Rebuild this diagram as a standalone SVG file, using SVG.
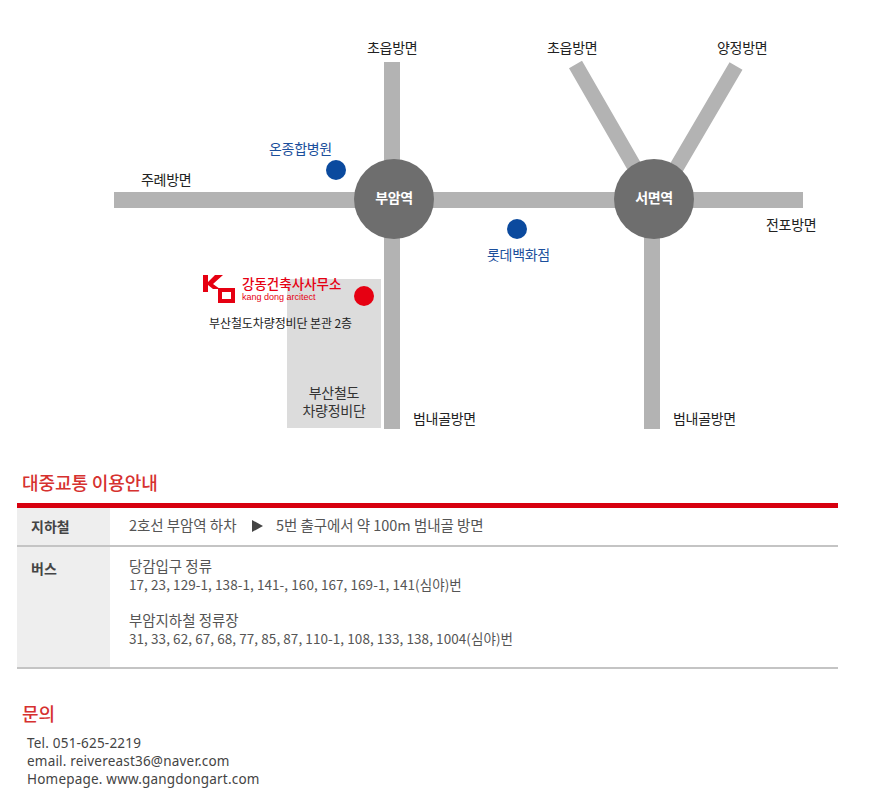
<svg xmlns="http://www.w3.org/2000/svg" width="869" height="798" viewBox="0 0 869 798">
<style>
text{font-family:"Noto Sans CJK KR","Noto Sans",sans-serif;letter-spacing:0}
.road{fill:#b3b3b3;stroke:none}
.rl{stroke:#b3b3b3;stroke-width:15;fill:none}
.lbl{font-size:14px;fill:#222;letter-spacing:-0.3px}
.poi{font-size:14px;fill:#1b4f9c;letter-spacing:-0.3px}
.st{font-size:14px;fill:#fff;font-weight:700;text-anchor:middle;letter-spacing:-0.3px}
.ko{font-size:14.5px;fill:#555;letter-spacing:-0.05px}
.sm{font-size:13.5px;fill:#555;letter-spacing:0.07px}
.th{font-size:14px;fill:#444;font-weight:700}
.hd{font-size:18px;fill:#d6312f;font-weight:500;letter-spacing:-0.1px}
.ct{font-size:13.5px;fill:#444;font-family:"Noto Sans","DejaVu Sans",sans-serif;letter-spacing:0.2px}
.bl{font-size:14px;fill:#333;letter-spacing:-0.25px;text-anchor:middle}
</style>
<rect width="869" height="798" fill="#fff"/>
<g id="building"><rect x="287" y="279" width="94" height="149" fill="#dcdcdc"/>
<text class="bl" x="334" y="398">부산철도</text>
<text class="bl" x="334" y="416">차량정비단</text></g>
<g id="connectors">
<rect class="road" x="384" y="62" width="16" height="367"/>
<rect class="road" x="114" y="192" width="689" height="16"/>
<rect class="road" x="644" y="199" width="16" height="230"/>
<path class="rl" d="M575.5 64.5L653 199M736 66L658 199"/>
</g>
<g id="station-bueam"><circle cx="394" cy="199" r="40" fill="#6e6e6e"/><text class="st" x="394" y="203">부암역</text></g>
<g id="station-seomyeon"><circle cx="654" cy="199" r="40" fill="#6e6e6e"/><text class="st" x="654" y="203">서면역</text></g>
<g id="labels">
<text class="lbl" x="367" y="53">초읍방면</text>
<text class="lbl" x="547" y="53">초읍방면</text>
<text class="lbl" x="717" y="53">양정방면</text>
<text class="lbl" x="141" y="185">주례방면</text>
<text class="lbl" x="766" y="230">전포방면</text>
<text class="lbl" x="413" y="424">범내골방면</text>
<text class="lbl" x="673" y="424">범내골방면</text>
</g>
<g id="poi-hospital"><circle cx="336" cy="170" r="10" fill="#0b4a9e"/><text class="poi" x="269" y="154">온종합병원</text></g>
<g id="poi-lotte"><circle cx="517" cy="229" r="10" fill="#0b4a9e"/><text class="poi" x="487" y="260">롯데백화점</text></g>
<g id="poi-office">
<circle cx="364" cy="296" r="10" fill="#e60012"/>
<path d="M203 275h5v7l7-7h8l-10 9 7 5h-7l-5-4v7h-5z" fill="#e60012"/>
<path d="M218 288h17v15h-17zM222 292v7h9v-7z" fill="#e60012" fill-rule="evenodd"/>
<text x="242" y="289" style="font-size:13.5px;fill:#e60012;font-weight:500">강동건축사사무소</text>
<text x="242" y="300" style="font-size:9px;fill:#e60012;font-family:'Liberation Sans',sans-serif">kang dong arcitect</text>
<text x="209" y="328" style="font-size:12px;fill:#222;letter-spacing:-0.1px">부산철도차량정비단 본관 2층</text>
</g>
<g id="transit">
<text class="hd" x="22" y="490">대중교통 이용안내</text>
<rect x="17" y="508" width="93" height="160" fill="#eeeeee"/>
<rect x="17" y="503" width="821" height="5" fill="#d7000f"/>
<rect x="17" y="545" width="821" height="2" fill="#c4c4c4"/>
<rect x="17" y="667" width="821" height="2" fill="#c4c4c4"/>
<text class="th" x="31" y="532">지하철</text>
<text class="th" x="31" y="574">버스</text>
<text class="ko" x="129" y="531">2호선 부암역 하차</text>
<path d="M252 520l11 6-11 6z" fill="#444"/>
<text class="ko" x="276" y="531">5번 출구에서 약 100m 범내골 방면</text>
<text class="ko" x="129" y="572">당감입구 정류</text>
<text class="sm" x="129" y="590">17, 23, 129-1, 138-1, 141-, 160, 167, 169-1, 141(심야)번</text>
<text class="ko" x="129" y="626">부암지하철 정류장</text>
<text class="sm" x="129" y="644">31, 33, 62, 67, 68, 77, 85, 87, 110-1, 108, 133, 138, 1004(심야)번</text>
</g>
<g id="contact">
<text class="hd" x="22" y="721">문의</text>
<text class="ct" x="27" y="748">Tel. 051-625-2219</text>
<text class="ct" x="27" y="766">email. reivereast36@naver.com</text>
<text class="ct" x="27" y="784">Homepage. www.gangdongart.com</text>
</g>
</svg>
